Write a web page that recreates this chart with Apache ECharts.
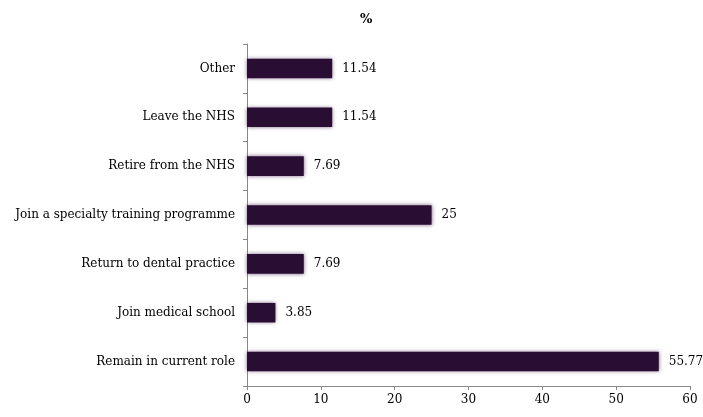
<!DOCTYPE html>
<html><head><meta charset="utf-8">
<script src="https://cdn.jsdelivr.net/npm/echarts@6/dist/echarts.min.js"></script>
<style>html,body{margin:0;padding:0;background:#fff}#c{width:703px;height:417px}</style>
</head><body><div id="c"></div>
<script>
var categories = ["Remain in current role","Join medical school","Return to dental practice","Join a specialty training programme","Retire from the NHS","Leave the NHS","Other"];
var values = [55.77,3.85,7.69,25,7.69,11.54,11.54];
var xTicks = [0,10,20,30,40,50,60];
var titleText = "%";
var font = "DejaVu Serif";
var chart = echarts.init(document.getElementById('c'));
chart.setOption({
  animation:false,
  title:{text:titleText,left:355,top:8,textStyle:{fontFamily:font,fontSize:13,fontWeight:'bold',color:'#000'}},
  grid:{left:247,right:13,top:44,bottom:31},
  xAxis:{type:'value',min:0,max:60,interval:10,
    axisLine:{show:true,lineStyle:{color:'#888'}},
    axisTick:{show:true,length:4,lineStyle:{color:'#888'}},
    splitLine:{show:false},
    axisLabel:{fontFamily:font,fontSize:12,color:'#000',margin:8,formatter:function(v){return xTicks.indexOf(v)>=0?String(v):'';}}},
  yAxis:{type:'category',data:categories,
    axisLine:{lineStyle:{color:'#888'}},
    axisTick:{show:true,length:4,lineStyle:{color:'#888'}},
    axisLabel:{fontFamily:font,fontSize:12,color:'#000',margin:12}},
  series:[{type:'bar',data:values,barWidth:'40%',
    itemStyle:{color:'#2a0d33',shadowColor:'rgba(80,40,90,0.7)',shadowBlur:4},
    label:{show:true,position:'right',distance:10,fontFamily:font,fontSize:12,color:'#000',formatter:function(p){return String(p.value);}}}]
});
</script></body></html>
